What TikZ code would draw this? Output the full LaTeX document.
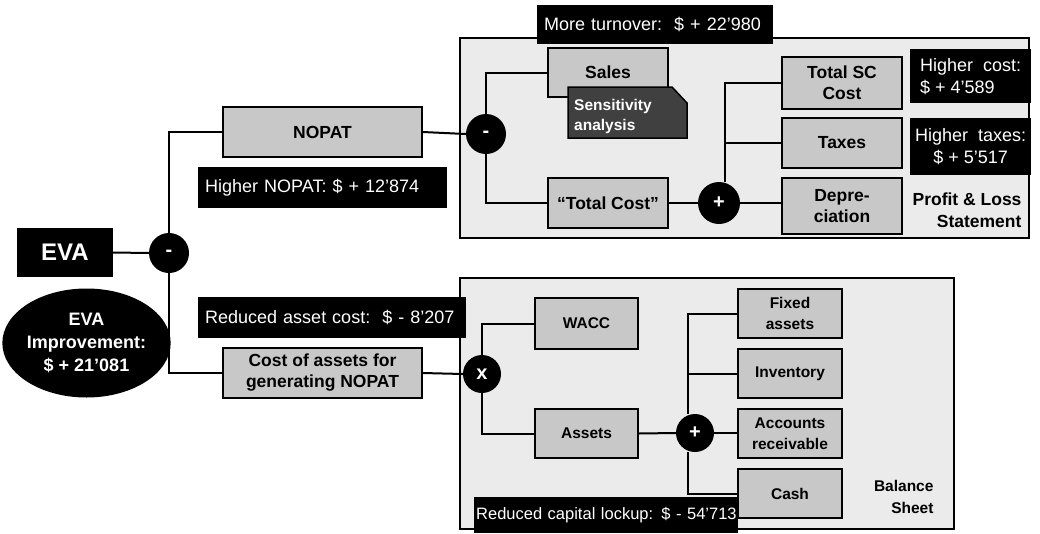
\documentclass[tikz,border=0pt]{standalone}
\usepackage{fontspec}
\setmainfont{Liberation Sans}
\usetikzlibrary{shapes.geometric}
\definecolor{boxgray}{RGB}{200,200,200}
\definecolor{panelgray}{RGB}{235,235,235}
\definecolor{sensgray}{RGB}{64,64,64}
\begin{document}
\begin{tikzpicture}[x=1pt,y=-1pt,
  conn/.style={line width=2pt},
  gbox/.style={draw, line width=1.5pt, fill=boxgray, align=center, inner sep=0pt},
  bigtxt/.style={font=\bfseries\fontsize{17.5}{21}\selectfont},
  smalltxt/.style={font=\bfseries\fontsize{15.5}{21}\selectfont},
  op/.style={circle, fill=black, text=white, font=\bfseries\fontsize{20}{20}\selectfont, minimum size=40pt, inner sep=0pt},
  tag/.style={fill=black, text=white, font=\fontsize{18}{22}\selectfont, inner ysep=0pt, anchor=north west},
  panel/.style={draw, line width=2pt, fill=panelgray},
  caption/.style={font=\bfseries\fontsize{17.5}{22}\selectfont, align=right, anchor=east}
]
\useasboundingbox (0,0) rectangle (1040,533);

% the two statement panels
\draw[panel] (460,38) rectangle (1029,238);
\draw[panel] (460,278) rectangle (954,529);

% EVA root
\node[fill=black, text=white, font=\bfseries\fontsize{24}{28}\selectfont,
      minimum width=96pt, minimum height=49pt, inner sep=0pt] (eva) at (65,252.5) {EVA};
\node[op] (m1) at (169,253) {-};
\node[ellipse, fill=black, text=white, minimum width=159pt, minimum height=109pt,
      inner sep=0pt, align=center, font=\bfseries\fontsize{18}{23}\selectfont] (impr) at (86.5,343)
      {EVA\\Improvement:\\\$ + 21’081};

% NOPAT branch
\node[gbox, bigtxt, minimum width=199pt, minimum height=50pt] (nopat) at (322.5,132) {NOPAT};
\node[op] (m2) at (486,134) {-};
\node[gbox, bigtxt, minimum width=120pt, minimum height=49pt] (sales) at (608,72.5) {Sales};
\node[gbox, bigtxt, minimum width=120pt, minimum height=50pt] (tcost) at (608,203) {“Total Cost”};
\node[op, minimum size=42pt] (p1) at (719,203) {+};
\node[gbox, bigtxt, minimum width=120pt, minimum height=52pt] (sccost) at (842,83) {Total SC\\Cost};
\node[gbox, bigtxt, minimum width=120pt, minimum height=50pt] (taxes) at (842,143) {Taxes};
\node[gbox, bigtxt, minimum width=120pt, minimum height=56pt] (depr) at (842,206) {Depre-\\ciation};

% sensitivity note with folded corner
\draw[fill=sensgray, line width=1.5pt] (568,87) -- (672,87) -- (687,103) -- (687,138) -- (568,138) -- cycle;
\node[text=white, align=left, anchor=west, inner sep=0pt,
      font=\bfseries\fontsize{15.5}{20}\selectfont] (sens) at (574,116) {Sensitivity\\analysis};

% asset cost branch
\node[gbox, bigtxt, minimum width=199pt, minimum height=50pt] (assetcost) at (322.5,373)
      {Cost of assets for\\generating NOPAT};
\node[op, minimum size=38pt] (mx) at (482,374) {x};
\node[gbox, smalltxt, minimum width=103pt, minimum height=51pt] (wacc) at (586.5,323.5) {WACC};
\node[gbox, smalltxt, minimum width=103pt, minimum height=49pt] (assets) at (586.5,433.5) {Assets};
\node[op, minimum size=38pt] (p2) at (695,433) {+};
\node[gbox, smalltxt, minimum width=104pt, minimum height=49pt] (fixed) at (790,313.5) {Fixed\\assets};
\node[gbox, smalltxt, minimum width=104pt, minimum height=49pt] (inv) at (790,373.5) {Inventory};
\node[gbox, smalltxt, minimum width=104pt, minimum height=49pt] (recv) at (790,433.5) {Accounts\\receivable};
\node[gbox, smalltxt, minimum width=104pt, minimum height=49pt] (cash) at (790,493.5) {Cash};

% connectors
\draw[conn] (eva.east) -- (m1.west);
\draw[conn] (m1.north) |- (nopat.west);
\draw[conn] (m1.south) |- (assetcost.west);
\draw[conn] (nopat.east) -- (m2.west);
\draw[conn] (m2.north) |- (sales.west);
\draw[conn] (m2.south) |- (tcost.west);
\draw[conn] (tcost.east) -- (p1.west);
\draw[conn] (p1.east) -- (p1.east -| depr.west);
\coordinate (pv) at ([xshift=6pt]p1.north);
\draw[conn] (pv) |- (sccost.west);
\draw[conn] (pv |- taxes.west) -- (taxes.west);
\draw[conn] (assetcost.east) -- (mx.west);
\draw[conn] (mx.north) |- (wacc.west);
\draw[conn] (mx.south) |- (assets.west);
\draw[conn] (assets.east) -- (p2.west);
\draw[conn] (p2.east) -- (p2.east -| recv.west);
\coordinate (bvt) at ([xshift=-7pt]p2.north);
\coordinate (bvb) at ([xshift=-7pt]p2.south);
\draw[conn] (bvt) |- (fixed.west);
\draw[conn] (bvt |- inv.west) -- (inv.west);
\draw[conn] (bvb) |- (cash.west);

% value labels
\node[tag, text width=222pt, inner xsep=7pt, minimum height=39pt, align=left] (tturn) at (537,5)
      {\mbox{More turnover:\ \ \$ + 22’980}};
\node[tag, text width=235pt, inner xsep=7pt, minimum height=41pt, align=left] (tnopat) at (198,167)
      {\mbox{Higher NOPAT: \$ + 12’874}};
\node[tag, text width=254pt, inner xsep=7pt, minimum height=41pt, align=left] (tasset) at (198,297)
      {\mbox{Reduced asset cost:\ \ \$ - 8’207}};
\node[tag, minimum width=121pt, minimum height=54pt, inner xsep=0pt, align=left] (tsc) at (910,49)
      {Higher\ \ cost:\\\$ + 4’589};
\node[tag, minimum width=121pt, minimum height=57pt, inner xsep=0pt, align=center] (ttax) at (910,118)
      {Higher\ \ taxes:\\\$ + 5’517};
\node[tag, text width=260pt, inner xsep=2pt, minimum height=36pt, align=left,
      font=\fontsize{16.5}{20}\selectfont] (tlock) at (474,497)
      {\raisebox{-6pt}{\mbox{Reduced capital lockup: \$ - 54’713}}};

% panel captions
\node[caption] (pl) at (1025,210) {Profit \& Loss\\Statement};
\node[caption, font=\bfseries\fontsize{15.5}{22}\selectfont] (bs) at (937,497) {Balance\\Sheet};
\end{tikzpicture}
\end{document}
